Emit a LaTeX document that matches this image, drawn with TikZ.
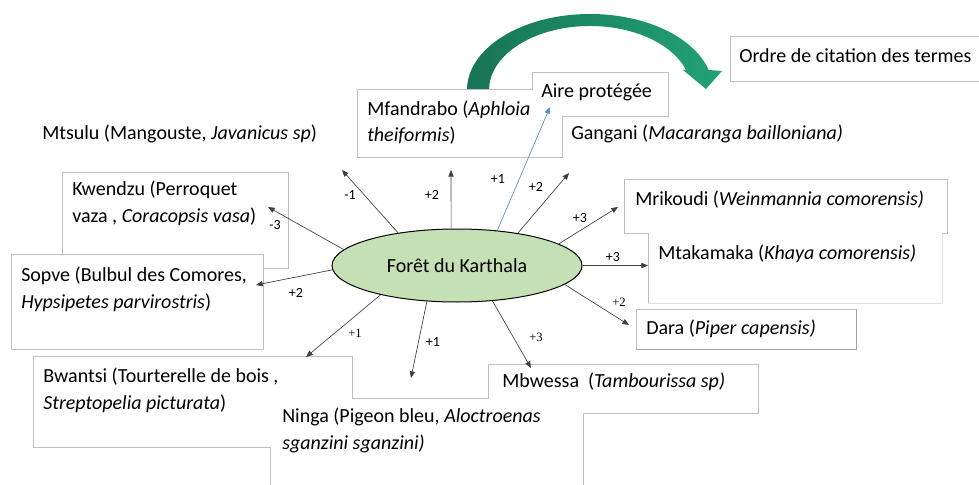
\documentclass[tikz,border=0pt]{standalone}
\usepackage{fontspec}
\setmainfont{Carlito}
\newfontfamily\labserif{Liberation Serif}
\usetikzlibrary{arrows.meta,shapes.geometric,positioning}

\definecolor{boxgray}{RGB}{191,191,191}
\definecolor{faintgray}{RGB}{226,226,226}
\definecolor{shadowgray}{RGB}{165,165,165}
\definecolor{forestfill}{RGB}{197,224,180}
\definecolor{arcdark}{RGB}{24,116,86}
\definecolor{arclight}{RGB}{34,162,118}
\definecolor{linkblue}{RGB}{84,141,204}

\tikzset{
  txt/.style={anchor=base west, inner sep=0pt, font=\fontsize{15}{20}\selectfont, align=left},
  lab/.style={inner sep=0pt, font=\fontsize{10.5}{12}\selectfont},
  labs/.style={inner sep=0pt, font=\labserif\fontsize{9.5}{11}\selectfont},
  edge/.style={draw=boxgray, line width=0.75pt},
  link/.style={-{Triangle[length=5pt,width=4pt]}, line width=0.5pt, draw=black!75},
}

\begin{document}
\begin{tikzpicture}[x=0.75pt,y=-0.75pt]
  \useasboundingbox (0,0) rectangle (979,485);

  % curved arrow
  \shade[left color=arcdark, right color=arclight]
    (467,90) arc[start angle=180, end angle=344.7, x radius=123, y radius=76]
    -- (722,71) -- (706,89) -- (683,70) -- (686,70)
    arc[start angle=341.8, end angle=180, x radius=101, y radius=64] -- cycle;

  % boxes
  \draw[edge] (979,37) -- (730,37) -- (730,82) -- (979,82); % ordre
  \draw[edge] (532,90) -- (532,73) -- (668,73) -- (668,117) -- (562,117); % aire
  \draw[edge] (532,90) -- (357,90) -- (357,157) -- (562,157) -- (562,117); % mfandrabo
  \draw[edge] (62,254) -- (62,172) -- (288,172) -- (288,268) -- (263,268); % kwendzu
  \draw[edge] (11,254) rectangle (263,349); % sopve
  \draw[edge] (33,447) -- (33,356) -- (352,356) -- (352,398) -- (488,398)
    -- (488,364) -- (758,364) -- (758,413) -- (583,413) -- (583,485); % bwantsi, mbwessa
  \draw[edge] (33,447) -- (270,447) -- (270,485); % bottom
  \draw[edge] (648,233) -- (624,233) -- (624,179) -- (947,179) -- (947,233) -- (942,233); % mrikoudi
  \draw[edge] (648,233) -- (648,303);
  \draw[draw=faintgray, line width=0.75pt] (648,303) -- (942,303) -- (942,233); % mtakamaka
  \draw[edge] (856,309) -- (636,309) -- (636,349);
  \draw[draw=shadowgray, line width=0.75pt] (636,349) -- (856,349) -- (856,309); % dara

  % texts
  \node[txt] (ordre) at (739,63) {Ordre de citation des termes};
  \node[txt] (aire) at (541,98) {Aire protégée};
  \node[txt] (mfandrabo) at (367,142) {Mfandrabo (\textit{Aphloia}\\\textit{theiformis})};
  \node[txt] (gangani) at (571,140) {Gangani (\textit{Macaranga bailloniana)}};
  \node[txt] (mtsulu) at (42,140) {Mtsulu (Mangouste, \textit{Javanicus sp})};
  \node[txt] (kwendzu) at (72,222) {Kwendzu (Perroquet\\vaza , \textit{Coracopsis vasa})};
  \node[txt] (sopve) at (21,308) {Sopve (Bulbul des Comores,\\\textit{Hypsipetes parvirostris})};
  \node[txt] (bwantsi) at (43,409) {Bwantsi (Tourterelle de bois ,\\\textit{Streptopelia picturata})};
  \node[txt] (ninga) at (282,449) {Ninga (Pigeon bleu, \textit{Aloctroenas}\\\textit{sganzini sganzini)}};
  \node[txt] (mbwessa) at (502,387) {Mbwessa\ \ (\textit{Tambourissa sp)}};
  \node[txt] (mrikoudi) at (635,205) {Mrikoudi (\textit{Weinmannia comorensis)}};
  \node[txt] (mtakamaka) at (658,259) {Mtakamaka (\textit{Khaya comorensis)}};
  \node[txt] (dara) at (646,334) {Dara (\textit{Piper capensis)}};

  % centre
  \node[ellipse, draw, line width=0.75pt, fill=forestfill, minimum width=187.5pt,
    minimum height=54.75pt, inner sep=0pt, font=\fontsize{15}{20}\selectfont]
    (foret) at (457,265.5) {Forêt du Karthala};

  % arrow ends
  \coordinate (tMtsulu) at (342,170);
  \coordinate (tMfandrabo) at (451,170);
  \coordinate (tAire) at (550,107);
  \coordinate (tGangani) at (569,173);
  \coordinate (tMrikoudi) at (618,207);
  \coordinate (tMtakamaka) at (648,265.5);
  \coordinate (tDara) at (629,325);
  \coordinate (tMbwessa) at (531,368);
  \coordinate (tNinga) at (411,378);
  \coordinate (tBwantsi) at (306,357);
  \coordinate (tKwendzu) at (268,207);
  \coordinate (tSopve) at (256,285);

  \draw[link] (foret.151) -- (tMtsulu);
  \draw[link] (foret.99) -- (tMfandrabo);
  \draw[link, draw=linkblue, -{Triangle[length=5pt,width=4pt,fill=linkblue]}] (foret.41) -- (tAire);
  \draw[link] (foret.28) -- (tGangani);
  \draw[link] (foret.12) -- (tMrikoudi);
  \draw[link] (foret.east) -- (tMtakamaka);
  \draw[link] (foret.-10) -- (tDara);
  \draw[link] (foret.-45) -- (tMbwessa);
  \draw[link] (foret.230) -- (tNinga);
  \draw[link] (foret.201) -- (tBwantsi);
  \draw[link] (foret.172) -- (tKwendzu);
  \draw[link] (foret.182) -- (tSopve);

  % values
  \node[lab] (vMtsulu) at (350,195) {-1};
  \node[lab] (vMfandrabo) at (432,195) {+2};
  \node[lab] (vAire) at (498,179) {+1};
  \node[lab] (vGangani) at (536,187) {+2};
  \node[lab] (vMrikoudi) at (580,218) {+3};
  \node[lab] (vMtakamaka) at (613,257) {+3};
  \node[labs] (vDara) at (619,302) {+2};
  \node[labs] (vMbwessa) at (536,337) {+3};
  \node[lab] (vNinga) at (433,342) {+1};
  \node[labs] (vBwantsi) at (355,333) {+1};
  \node[lab] (vKwendzu) at (275,225) {-3};
  \node[lab] (vSopve) at (296,293) {+2};
\end{tikzpicture}
\end{document}
